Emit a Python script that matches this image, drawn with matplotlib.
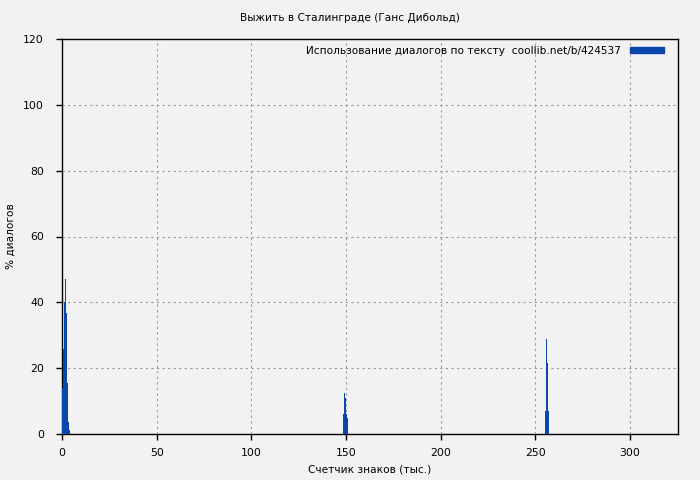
import matplotlib.pyplot as plt
from matplotlib.patches import Patch

# dialogue share per text position (thousands of characters)
pos_start = [0.5, 1.0, 1.5, 2.0, 2.5, 3.0, 3.5, 4.0]
val_start = [14.1, 25.8, 40.0, 47.1, 36.7, 15.6, 3.7, 1.2]

pos_mid = [148.5, 149.0, 149.5, 150.0, 150.5, 151.0]
val_mid = [6.0, 12.5, 11.0, 6.0, 5.0, 1.9]

pos_end = [255.5, 256.0, 256.5, 257.0]
val_end = [7.1, 28.9, 21.7, 7.1]

x_ticks = [0, 50, 100, 150, 200, 250, 300]
y_ticks = [0, 20, 40, 60, 80, 100, 120]

bg = '#f2f2f2'
bar_color = '#0a46ab'

fig = plt.figure(figsize=(7, 4.8), dpi=100, facecolor=bg)
ax = fig.add_axes([62 / 700, 1 - 434 / 480, 616 / 700, 395 / 480], facecolor=bg)

for xs, ys in [(pos_start, val_start), (pos_mid, val_mid), (pos_end, val_end)]:
    ax.bar(xs, ys, width=0.55, color=bar_color, linewidth=0, zorder=3)

ax.set_xlim(0, 325.3)
ax.set_ylim(0, 120)
ax.set_xticks(x_ticks)
ax.set_yticks(y_ticks)
ax.tick_params(labelsize=7.8, direction='out', length=4, width=1, color='black')
ax.tick_params(axis='x', pad=6)
ax.tick_params(axis='y', pad=9)
ax.grid(True, color='#999999', linestyle=(0, (2, 3)), linewidth=0.8)
for s in ax.spines.values():
    s.set_color('black')
    s.set_linewidth(1)

ax.set_xlabel('Счетчик знаков (тыс.)', fontsize=7.6)
ax.set_ylabel('% диалогов', fontsize=7.6)
ax.xaxis.set_label_coords(0.5, -0.089)
ax.yaxis.set_label_coords(-0.084, 0.5)
ax.xaxis.label.set_va('center')
ax.yaxis.label.set_va('center')
fig.text(0.5, 1 - 18 / 480, 'Выжить в Сталинграде (Ганс Дибольд)', ha='center', va='center', fontsize=7.6)

handle = Patch(color=bar_color)
ax.legend([handle], ['Использование диалогов по тексту  coollib.net/b/424537'],
          loc='upper right', bbox_to_anchor=(604 / 616, 1 - 5 / 395),
          frameon=False, fontsize=7.6, markerfirst=False,
          handlelength=3.2, handleheight=0.5, borderaxespad=0.0, borderpad=0.2,
          handletextpad=0.9)

fig.savefig('out.png', dpi=100, facecolor=bg)
